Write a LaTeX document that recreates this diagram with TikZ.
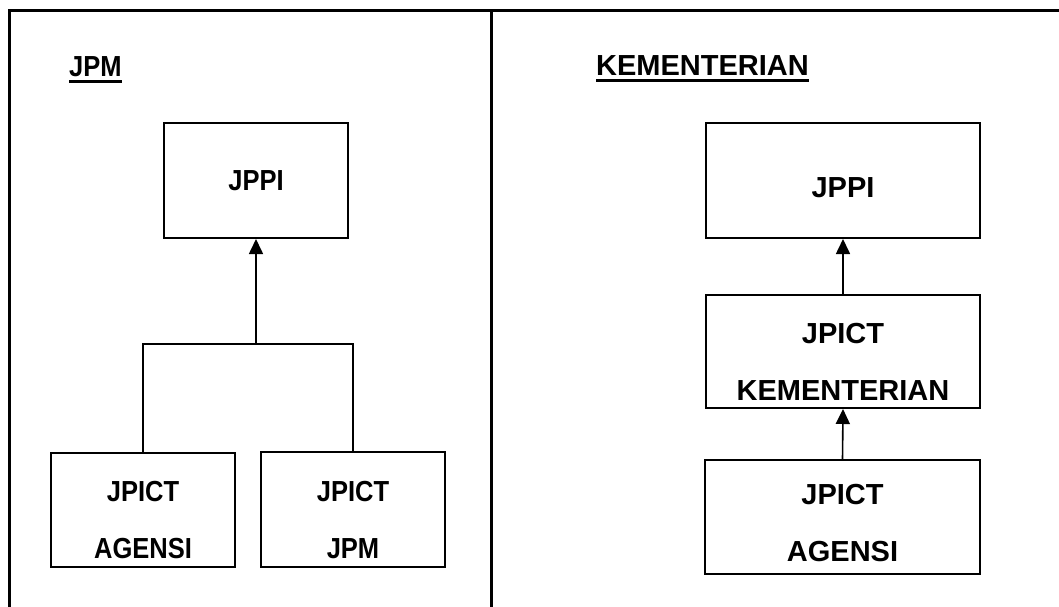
\documentclass[tikz,border=0pt]{standalone}
\usepackage{fontspec}
\setmainfont{Liberation Sans}
\newfontfamily\narrowsans[FakeStretch=0.88,BoldFont={Liberation Sans Bold},BoldFeatures={FakeStretch=0.88}]{Liberation Sans}
\usetikzlibrary{arrows.meta}
\newcommand{\drop}[1]{\rule{0pt}{#1pt}}
\tikzset{
    frame line/.style={line width=3pt},
    link/.style={line width=1.6pt},
    arr/.style={link,-{Triangle[length=15pt,width=14pt]}},
    left font/.style={font=\narrowsans\bfseries\fontsize{29}{57}\selectfont},
    right font/.style={font=\bfseries\fontsize{29}{57}\selectfont},
    unit box/.style={draw,line width=2pt,inner sep=2pt,align=center,minimum width=#1},
    unit box/.default=184pt,
    panel title/.style={anchor=base west,inner sep=0pt},
    title rule/.style={line width=3pt},
}

\begin{document}
\begin{tikzpicture}[x=1pt,y=-1pt]
        \useasboundingbox (0,0) rectangle (1059,607);
        \draw[frame line] (9,607) -- (9,11) -- (1059,11);
        \draw[frame line] (491,11) -- (491,607);

        \node[panel title,left font] (jpmtitle) at (69,77) {JPM};
        \draw[title rule] ([yshift=-5pt]jpmtitle.base west) -- ([yshift=-5pt]jpmtitle.base east);
        \node[unit box,left font,minimum height=115pt] (jppiA) at (256,180.5) {JPPI};
        \node[unit box,left font,minimum height=114pt] (agensiA) at (143,510) {\drop{41}JPICT\\AGENSI};
        \node[unit box,left font,minimum height=115pt] (jpmA) at (353,509.5) {\drop{41}JPICT\\JPM};
        \coordinate (forkA) at (256,344);
        \draw[link] (agensiA.north) |- (forkA) -| (jpmA.north);
        \draw[arr] (forkA) -- (jppiA.south);

        \node[panel title,right font] (kemtitle) at (596,76) {KEMENTERIAN};
        \draw[title rule] ([yshift=-5pt]kemtitle.base west) -- ([yshift=-5pt]kemtitle.base east);
        \node[unit box=274pt,right font,minimum height=115pt] (jppiB) at (843,180.5) {\drop{34}JPPI};
        \node[unit box=274pt,right font,minimum height=113pt] (kemB) at (843,351.5) {\drop{41}JPICT\\KEMENTERIAN};
        \node[unit box=275pt,right font,minimum height=114pt] (agensiB) at (842.5,517) {\drop{32}JPICT\\AGENSI};
        \draw[arr] (kemB.north) -- (jppiB.south);
        \draw[arr] (agensiB.north) -- (kemB.south);
    \end{tikzpicture}
\end{document}
